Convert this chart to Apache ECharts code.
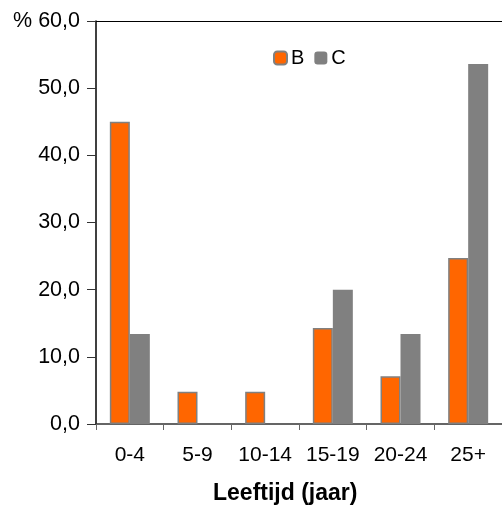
<!DOCTYPE html>
<html>
<head>
<meta charset="utf-8">
<script src="https://cdn.jsdelivr.net/npm/echarts@6/dist/echarts.min.js"></script>
<style>
html,body{margin:0;padding:0;background:#fff;}
#chart{width:502px;height:512px;}
</style>
</head>
<body>
<div id="chart"></div>
<script>
var categories = ['0-4', '5-9', '10-14', '15-19', '20-24', '25+'];
var seriesB = [45.0, 4.8, 4.8, 14.3, 7.1, 24.7];
var seriesC = [13.4, 0, 0, 20.0, 13.4, 53.6];
var yTickValues = [0, 10, 20, 30, 40, 50, 60];
var yTickLabels = ['0,0', '10,0', '20,0', '30,0', '40,0', '50,0', '% 60,0'];
var xAxisTitle = 'Leeftijd (jaar)';

var FONT = '"Liberation Sans", Arial, sans-serif';
var chart = echarts.init(document.getElementById('chart'));
chart.setOption({
  animation: false,
  backgroundColor: '#ffffff',
  grid: { left: 96, top: 21, width: 415, bottom: 88, containLabel: false },
  legend: {
    data: ['B', 'C'],
    left: 268, top: 43,
    itemWidth: 13, itemHeight: 13, itemGap: 10,
    textStyle: { fontFamily: FONT, fontSize: 20, color: '#000', padding: [0, 0, 0, -1] }
  },
  xAxis: [{
    type: 'category',
    data: categories,
    position: 'bottom',
    axisLine: { lineStyle: { color: '#333', width: 1.5 } },
    axisTick: { show: true, length: 6, interval: 0, alignWithLabel: false, lineStyle: { color: '#666' } },
    axisLabel: { fontFamily: FONT, fontSize: 21, color: '#000', margin: 21, interval: 0, hideOverlap: false }
  }, {
    type: 'category',
    data: categories,
    position: 'top',
    axisLine: { show: true, lineStyle: { color: '#000', width: 1 } },
    axisTick: { show: false },
    axisLabel: { show: false }
  }],
  yAxis: {
    type: 'value',
    min: 0, max: 60, interval: 10,
    axisLine: { show: true, lineStyle: { color: '#000', width: 1.5 } },
    axisTick: { show: true, length: 9, lineStyle: { color: '#333' } },
    splitLine: { show: false },
    axisLabel: {
      fontFamily: FONT, fontSize: 21.5, color: '#000', margin: 16,
      formatter: function (v) {
        var i = yTickValues.indexOf(v);
        return i >= 0 ? yTickLabels[i] : '';
      }
    }
  },
  graphic: [{
    type: 'text',
    left: 213, top: 482,
    style: { text: xAxisTitle, font: 'bold 23px ' + FONT, fill: '#000' }
  }],
  series: [{
    name: 'B', type: 'bar', data: seriesB,
    barWidth: 20, barGap: '0%',
    itemStyle: { color: '#ff6600', borderColor: '#808080', borderWidth: 1.5 }
  }, {
    name: 'C', type: 'bar', data: seriesC,
    barWidth: 20,
    itemStyle: { color: '#808080' }
  }]
});
</script>
</body>
</html>
